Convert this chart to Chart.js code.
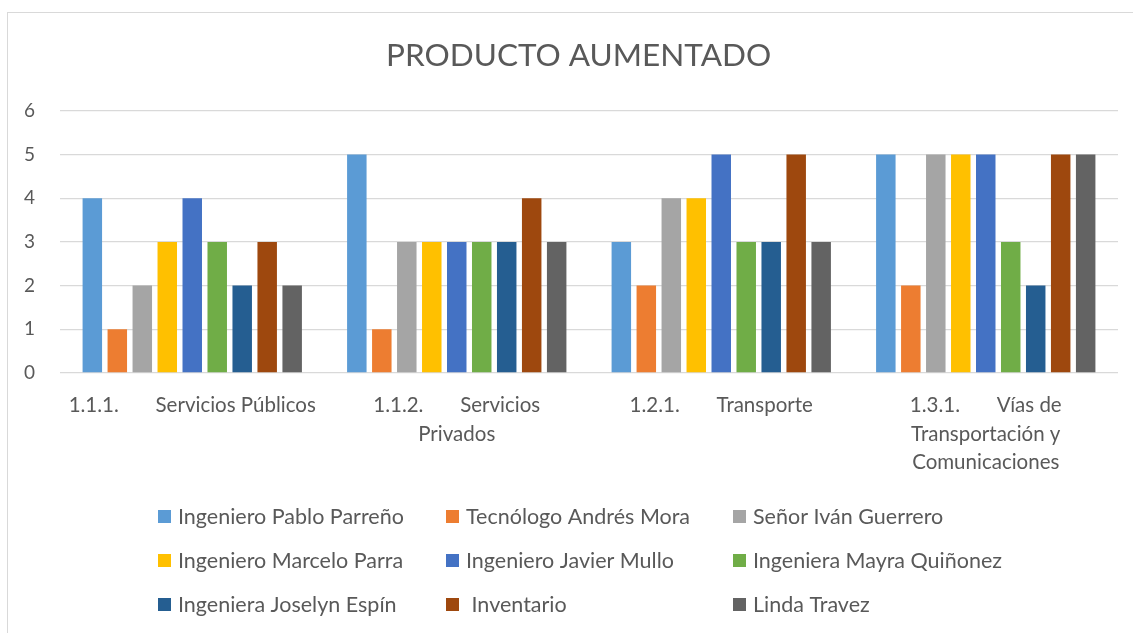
<!DOCTYPE html>
<html>
<head>
<meta charset="utf-8">
<script src="https://cdn.jsdelivr.net/npm/chart.js@4"></script>
<style>
  body { margin: 0; background: #fff; }
  #frame { position: absolute; left: 7px; top: 12px; width: 1200px; height: 700px; border: 1px solid #d9d9d9; }
  #wrap { position: absolute; left: 0; top: 0; width: 1133px; height: 633px; }
</style>
</head>
<body>
<div id="frame"></div>
<div id="wrap"><canvas id="myChart"></canvas></div>
<script>
const categories = [
	['1.1.1.       Servicios Públicos'],
	['1.1.2.       Servicios', 'Privados'],
	['1.2.1.       Transporte'],
	['1.3.1.       Vías de', 'Transportación y', 'Comunicaciones']
];

const names = [
	'Ingeniero Pablo Parreño',
	'Tecnólogo Andrés Mora',
	'Señor Iván Guerrero',
	'Ingeniero Marcelo Parra',
	'Ingeniero Javier Mullo',
	'Ingeniera Mayra Quiñonez',
	'Ingeniera Joselyn Espín',
	' Inventario',
	'Linda Travez'
];

// one array per person, one value per category
const pabloParreno = [4, 5, 3, 5];
const andresMora = [1, 1, 2, 2];
const ivanGuerrero = [2, 3, 4, 5];
const marceloParra = [3, 3, 4, 5];
const javierMullo = [4, 3, 5, 5];
const mayraQuinonez = [3, 3, 3, 3];
const joselynEspin = [2, 3, 3, 2];
const inventario = [3, 4, 5, 5];
const lindaTravez = [2, 3, 3, 5];

const yTicks = [0, 1, 2, 3, 4, 5, 6];

const colors = ['#5B9BD5', '#ED7D31', '#A5A5A5', '#FFC000', '#4472C4', '#70AD47', '#255E91', '#9E480E', '#636363'];

const series = [pabloParreno, andresMora, ivanGuerrero, marceloParra, javierMullo, mayraQuinonez, joselynEspin, inventario, lindaTravez];

const textColor = '#595959';
const fontFamily = 'Lato, "Open Sans", sans-serif';

// legend in three fixed columns under the chart, like the original
const gridLegend = {
	id: 'gridLegend',
	afterDraw(chart) {
		const c = chart.ctx;
		const colX = [178, 466, 753];
		const rowY = [517, 561, 605];
		c.save();
		c.font = '21.5px ' + fontFamily;
		c.textBaseline = 'middle';
		c.textAlign = 'left';
		chart.data.datasets.forEach((ds, i) => {
			const x = colX[i % 3];
			const y = rowY[Math.floor(i / 3)];
			c.fillStyle = ds.backgroundColor;
			c.fillRect(x - 20, y - 7, 13, 13);
			c.fillStyle = textColor;
			c.fillText(ds.label, x, y);
		});
		c.restore();
	}
};

const ctx = document.getElementById('myChart').getContext('2d');

let myChart = new Chart(ctx, {
	type: 'bar',
	data: {
		labels: categories,
		datasets: series.map((values, i) => ({
			label: names[i],
			data: values,
			backgroundColor: colors[i],
			categoryPercentage: 0.85,
			barPercentage: 0.78
		}))
	},
	options: {
		responsive: true,
		maintainAspectRatio: false,
		animation: false,
		layout: { padding: { left: 7, right: 15, top: 12, bottom: 150 } },
		plugins: {
			legend: { display: false },
			tooltip: { enabled: false },
			title: {
				display: true,
				text: '    PRODUCTO AUMENTADO',
				color: textColor,
				font: { family: fontFamily, size: 31.5, weight: 'normal' },
				padding: { top: 25, bottom: 36 }
			}
		},
		scales: {
			x: {
				grid: { display: false, drawTicks: false },
				border: { display: false },
				ticks: {
					color: textColor,
					font: { family: fontFamily, size: 20.5, lineHeight: 1.4 },
					padding: 18,
					maxRotation: 0,
					autoSkip: false
				},
				afterFit(scale) { scale.height = 110; }
			},
			y: {
				min: 0,
				max: 6,
				afterBuildTicks(scale) { scale.ticks = yTicks.map(v => ({ value: v })); },
				grid: { color: '#d9d9d9', lineWidth: 1.3, drawTicks: false },
				border: { display: false },
				ticks: {
					color: textColor,
					font: { family: fontFamily, size: 19 },
					padding: 25
				},
				afterFit(scale) { scale.width = 53; }
			}
		}
	},
	plugins: [gridLegend]
});
</script>
</body>
</html>
